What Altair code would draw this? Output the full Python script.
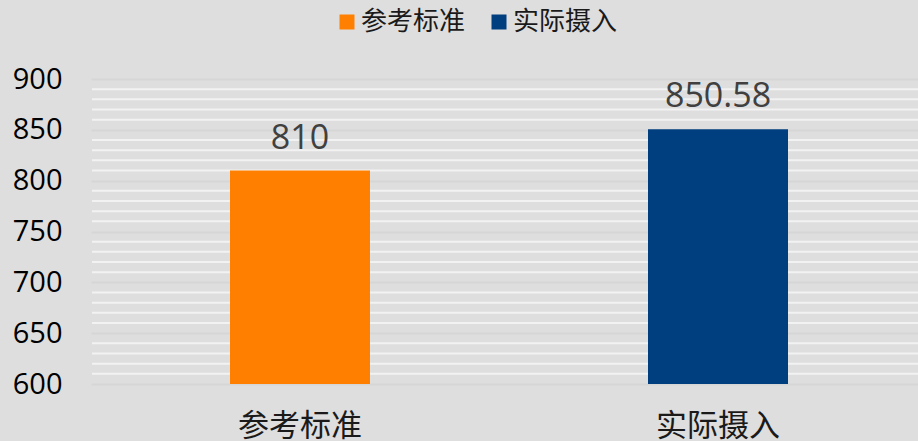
import altair as alt
import pandas as pd

categories = ["参考标准", "实际摄入"]
values = [810, 850.58]
labels = ["810", "850.58"]
colors = ["#FF8000", "#003F7F"]
major_ticks = [600, 650, 700, 750, 800, 850, 900]
minor_ticks = [v for v in range(610, 900, 10) if v % 50 != 0]

df = pd.DataFrame({"cat": categories, "val": values, "label": labels})
grid_df = pd.DataFrame({"g": minor_ticks})

yscale = alt.Scale(domain=[600, 900], nice=False, zero=False)
xscale = alt.Scale(paddingInner=0, paddingOuter=0, range=[-1, 835])

minor = alt.Chart(grid_df).mark_rule(color="#F2F2F2", strokeWidth=2).encode(
    y=alt.Y("g:Q", scale=yscale)
)

bars = alt.Chart(df).mark_bar(size=140).encode(
    x=alt.X("cat:N", sort=categories, title=None, scale=xscale,
            axis=alt.Axis(labelAngle=0, ticks=False, domain=False, labelFontSize=31,
                          labelColor="#1a1a1a", labelPadding=27,
                          labelFont="Noto Sans CJK SC")),
    y=alt.Y("val:Q", scale=yscale, title=None,
            axis=alt.Axis(values=major_ticks, ticks=False, domain=False, labelFontSize=29,
                          labelColor="#000000", labelPadding=30, labelFont="Open Sans",
                          grid=True, gridColor="#D6D6D6", gridWidth=2)),
    y2=alt.datum(600),
    color=alt.Color("cat:N", sort=categories,
                    scale=alt.Scale(domain=categories, range=colors),
                    legend=alt.Legend(title=None, orient="none", direction="horizontal",
                                      legendX=242, legendY=-70, symbolType="square",
                                      symbolSize=225, symbolStrokeWidth=0,
                                      labelFontSize=26, labelFont="Noto Sans CJK SC",
                                      labelColor="#1a1a1a", columnPadding=20,
                                      symbolOffset=0, labelOffset=1)),
)

text = alt.Chart(df).mark_text(fontSize=34, color="#404040", baseline="alphabetic", dy=-22,
                               font="Open Sans").encode(
    x=alt.X("cat:N", sort=categories, scale=xscale),
    y=alt.Y("val:Q", scale=yscale),
    text="label:N",
)

chart = alt.layer(minor, bars, text).properties(
    width=826, height=305,
    background="#DEDEDE",
    padding={"left": 92, "top": 79, "right": 0, "bottom": 57},
    autosize=alt.AutoSizeParams(type="none"),
).configure_view(stroke=None, fill="#DEDEDE")

chart.save("out.html", embed_options={"renderer": "svg", "actions": False})
